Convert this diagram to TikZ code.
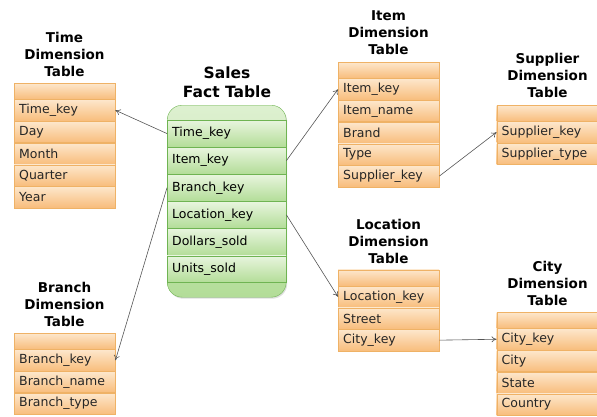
\documentclass[tikz,border=0pt]{standalone}
\usepackage{fontspec}
\setmainfont{DejaVu Sans}
\usetikzlibrary{arrows.meta,shadows}
\definecolor{otop}{HTML}{FDE7CC}
\definecolor{obot}{HTML}{F8BD7C}
\definecolor{obrd}{HTML}{EFB266}
\definecolor{gtop}{HTML}{E8F5DE}
\definecolor{gbot}{HTML}{B3DD98}
\definecolor{gbrd}{HTML}{6FB452}
\definecolor{arr}{HTML}{555555}
\tikzset{
  cellbase/.style={anchor=north west, inner xsep=5pt, inner ysep=0pt, align=left,
    font=\fontsize{12.5}{14}\selectfont, text=black!85},
  ohdr/.style={cellbase, draw=obrd, top color=otop, bottom color=obot,
    minimum width=101pt, text width=91pt, minimum height=16pt},
  orow/.style={cellbase, draw=obrd, top color=otop, bottom color=obot,
    minimum width=101pt, text width=91pt, minimum height=21.3pt},
  greenrow/.style={cellbase, draw=gbrd, top color=gtop, bottom color=gbot,
    minimum width=119pt, text width=109pt, minimum height=26.7pt, text=black},
  ttl/.style={align=center, font=\bfseries\fontsize{13.5}{17}\selectfont, text=black},
  link/.style={draw=arr, line width=0.6pt, -{To[length=5pt,width=6pt]}}
}
\begin{document}
\begin{tikzpicture}[x=1pt,y=-1pt]
\useasboundingbox (0,0) rectangle (597,416);
% Sales fact table
\node[ttl, font=\bfseries\fontsize{15.5}{19}\selectfont] (stt) at (227,82.5) {Sales\\Fact Table};
\node[anchor=north west, draw=gbrd, rounded corners=15pt, top color=gtop!80!gbot, bottom color=gbot,
  minimum width=119pt, minimum height=192pt, inner sep=0pt,
  drop shadow={shadow xshift=1pt, shadow yshift=-1.5pt, opacity=0.25}] (sales) at (167,105) {};
\node[greenrow] (st) at (167,120) {Time\_key};
\node[greenrow] (si) at (st.south west) {Item\_key};
\node[greenrow] (sb) at (si.south west) {Branch\_key};
\node[greenrow] (sl) at (sb.south west) {Location\_key};
\node[greenrow] (sd) at (sl.south west) {Dollars\_sold};
\node[greenrow] (su) at (sd.south west) {Units\_sold};
% Time
\node[ttl] (tt) at (64.5,54) {Time\\Dimension\\Table};
\node[ohdr] (th) at (14,83) {};
\node[orow] (t1) at (th.south west) {Time\_key};
\node[orow] (t2) at (t1.south west) {Day};
\node[orow] (t3) at (t2.south west) {Month};
\node[orow] (t4) at (t3.south west) {Quarter};
\node[orow] (t5) at (t4.south west) {Year};
% Branch
\node[ttl] (bt) at (64.5,304.5) {Branch\\Dimension\\Table};
\node[ohdr] (bh) at (14,333) {};
\node[orow] (b1) at (bh.south west) {Branch\_key};
\node[orow] (b2) at (b1.south west) {Branch\_name};
\node[orow] (b3) at (b2.south west) {Branch\_type};
% Item
\node[ttl] (it) at (388.5,32.5) {Item\\Dimension\\Table};
\node[ohdr] (ih) at (338,62) {};
\node[orow] (i1) at (ih.south west) {Item\_key};
\node[orow] (i2) at (i1.south west) {Item\_name};
\node[orow] (i3) at (i2.south west) {Brand};
\node[orow] (i4) at (i3.south west) {Type};
\node[orow] (i5) at (i4.south west) {Supplier\_key};
% Location
\node[ttl] (lt) at (388.5,241) {Location\\Dimension\\Table};
\node[ohdr] (lh) at (338,269.5) {};
\node[orow] (l1) at (lh.south west) {Location\_key};
\node[orow] (l2) at (l1.south west) {Street};
\node[orow] (l3) at (l2.south west) {City\_key};
% Supplier
\node[ttl] (pt) at (547.5,75.5) {Supplier\\Dimension\\Table};
\node[ohdr] (ph) at (496.5,105) {};
\node[orow] (p1) at (ph.south west) {Supplier\_key};
\node[orow] (p2) at (p1.south west) {Supplier\_type};
% City
\node[ttl] (ct) at (547.5,283) {City\\Dimension\\Table};
\node[ohdr] (ch) at (496.5,312) {};
\node[orow] (c1) at (ch.south west) {City\_key};
\node[orow] (c2) at (c1.south west) {City};
\node[orow] (c3) at (c2.south west) {State};
\node[orow] (c4) at (c3.south west) {Country};
% links
\draw[link] (st.west) -- (t1.east);
\draw[link] (sb.west) -- (b1.east);
\draw[link] (si.east) -- (i1.west);
\draw[link] (sl.east) -- (l1.west);
\draw[link] (i5.east) -- (p1.west);
\draw[link] (l3.east) -- (c1.west);
\end{tikzpicture}
\end{document}
